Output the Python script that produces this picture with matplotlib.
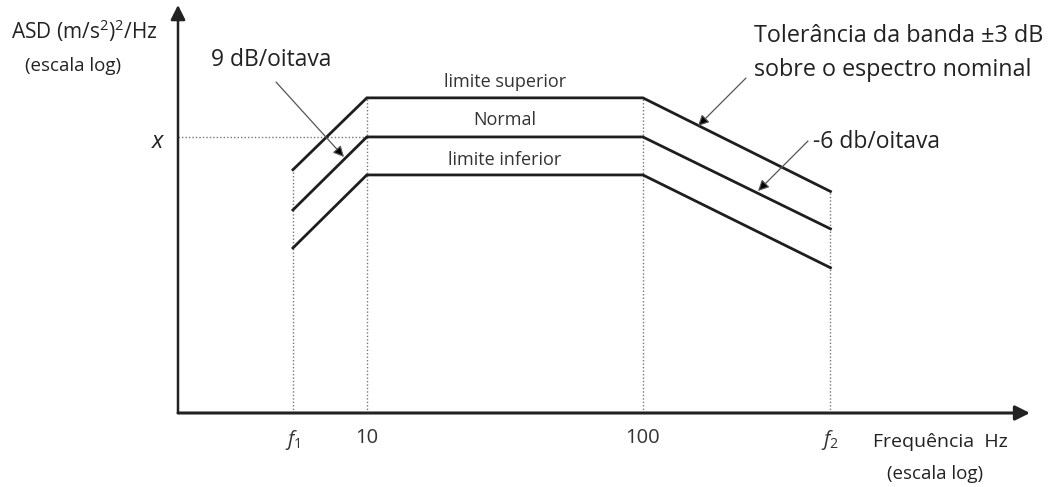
import matplotlib.pyplot as plt
import numpy as np

# Data (ASD in arbitrary units, nominal level x = 1)
freq = [5.4, 10, 100, 478]
tick_labels = ['$f_1$', '10', '100', '$f_2$']
asd_upper = [0.55, 2.04, 2.04, 0.37]
asd_normal = [0.264, 1.0, 1.0, 0.187]
asd_lower = [0.132, 0.50, 0.50, 0.092]

W, H = 1055, 487
plt.rcParams['font.family'] = ['Open Sans', 'DejaVu Sans']
plt.rcParams['mathtext.fontset'] = 'custom'
plt.rcParams['mathtext.rm'] = 'Open Sans'
plt.rcParams['mathtext.it'] = 'Open Sans:italic'

fig = plt.figure(figsize=(W / 100, H / 100), dpi=100)
fig.patch.set_facecolor('white')


def fx(px):
    return px / W


def fy(py):
    return 1 - py / H


ax = fig.add_axes([fx(178), fy(413), (1030 - 178) / W, (413 - 5) / H])
ax.set_xscale('log')
ax.set_yscale('log')
ax.set_xlim(2.07, 2525)
ax.set_ylim(0.0065, 11.1)
for s in ax.spines.values():
    s.set_visible(False)
ax.set_yticks([])
ax.minorticks_off()
ax.set_xticks(freq)
ax.set_xticklabels(tick_labels, fontsize=14.5, color='#333333')
ax.tick_params(axis='x', length=0, pad=11)
ax.tick_params(axis='y', which='both', length=0, labelleft=False)

C_LINE = '#1e1e1e'
C_DOT = '#777777'
C_TXT = '#222222'

# axes with arrow heads
ax.annotate('', xy=(1.0, 0), xytext=(0, 0), xycoords='axes fraction',
            arrowprops=dict(arrowstyle='-|>', color='#222222', lw=2.2,
                            mutation_scale=22, shrinkA=0, shrinkB=0))
ax.annotate('', xy=(0, 1.0), xytext=(0, 0), xycoords='axes fraction',
            arrowprops=dict(arrowstyle='-|>', color='#222222', lw=1.8,
                            mutation_scale=22, shrinkA=0, shrinkB=0))

# dotted verticals and reference level
ax.vlines(freq, 0.0065, asd_upper, colors=C_DOT, linestyles=(0, (1, 1.5)), lw=1.0)
ax.hlines(asd_normal[1], 2.07, freq[1], colors=C_DOT, linestyles=(0, (1, 1.5)), lw=1.0)

# spectrum lines
for vals in (asd_upper, asd_normal, asd_lower):
    ax.plot(freq, vals, color=C_LINE, lw=2.0, solid_joinstyle='miter')

# band labels
ax.text(31.6, 2.73, 'limite superior', ha='center', va='center', fontsize=13, color='#333333')
ax.text(31.6, 1.36, 'Normal', ha='center', va='center', fontsize=13, color='#333333')
ax.text(31.6, 0.66, 'limite inferior', ha='center', va='center', fontsize=13, color='#333333')

# annotations
arrow_kw = dict(arrowstyle='-|>', color='#555555', fc='black', lw=0.9,
                mutation_scale=16, shrinkA=0, shrinkB=0)
fig.text(fx(271), fy(60), '9 dB/oitava', ha='center', va='center', fontsize=16.5, color=C_TXT)
ax.annotate('', xy=(fx(344), fy(157)), xycoords='figure fraction',
            xytext=(fx(276), fy(82)), textcoords='figure fraction', arrowprops=arrow_kw)

fig.text(fx(754), fy(36), 'Tolerância da banda ±3 dB', ha='left', va='center',
         fontsize=16.8, color=C_TXT)
fig.text(fx(754), fy(70), 'sobre o espectro nominal', ha='left', va='center',
         fontsize=16.8, color=C_TXT)
ax.annotate('', xy=(fx(698), fy(126)), xycoords='figure fraction',
            xytext=(fx(746), fy(78)), textcoords='figure fraction', arrowprops=arrow_kw)

fig.text(fx(813), fy(142), '-6 db/oitava', ha='left', va='center', fontsize=16.5, color=C_TXT)
ax.annotate('', xy=(fx(758), fy(191)), xycoords='figure fraction',
            xytext=(fx(808), fy(141)), textcoords='figure fraction', arrowprops=arrow_kw)

# axis titles
fig.text(fx(11), fy(31), 'ASD (m/s$^2$)$^2$/Hz', ha='left', va='center', fontsize=15, color=C_TXT)
fig.text(fx(25), fy(66), '(escala log)', ha='left', va='center', fontsize=13.5, color=C_TXT)
fig.text(fx(158), fy(142), 'x', ha='center', va='center', fontsize=17, style='italic', color=C_TXT)
fig.text(fx(873), fy(442), 'Frequência  Hz', ha='left', va='center', fontsize=14, color=C_TXT)
fig.text(fx(887), fy(474), '(escala log)', ha='left', va='center', fontsize=13.5, color=C_TXT)

fig.savefig('out.png', dpi=100)
